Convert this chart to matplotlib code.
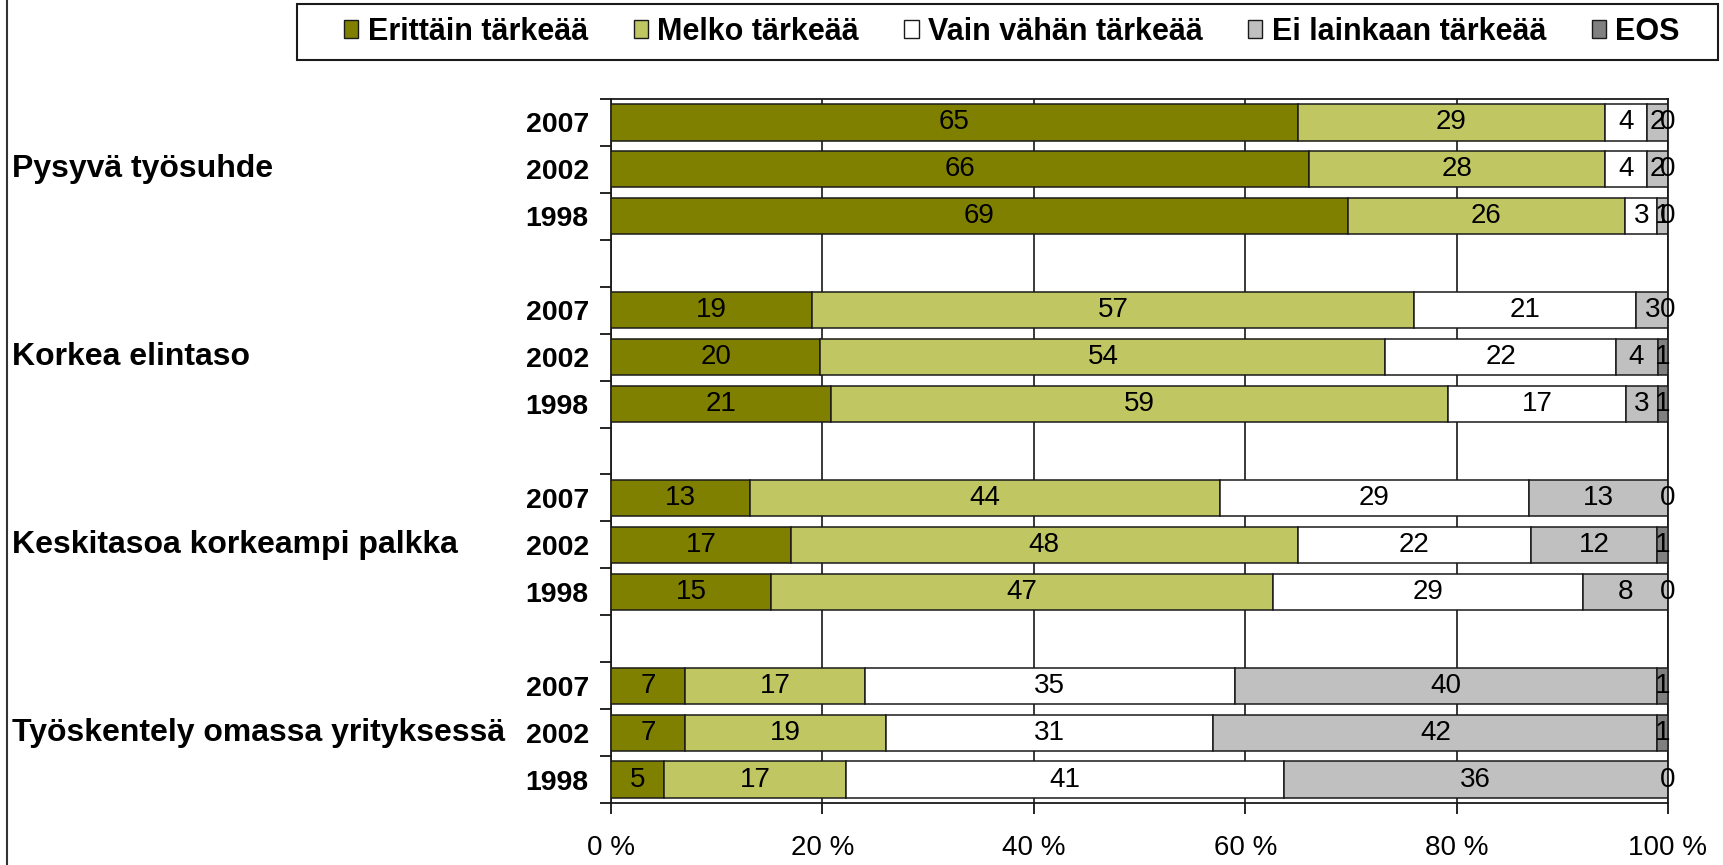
import numpy as np
import matplotlib
matplotlib.use("Agg")
import matplotlib.pyplot as plt
from matplotlib.lines import Line2D
from matplotlib.patches import Patch, Rectangle
import matplotlib.transforms as mtransforms

plt.rcParams['font.family'] = ['Liberation Sans', 'DejaVu Sans']

categories = ['Pysyvä työsuhde', 'Korkea elintaso',
              'Keskitasoa korkeampi palkka', 'Työskentely omassa yrityksessä']
years = ['2007', '2002', '1998']
series_names = ['Erittäin tärkeää', 'Melko tärkeää', 'Vain vähän tärkeää',
                'Ei lainkaan tärkeää', 'EOS']
series_colors = ['#808000', '#C0C662', '#FFFFFF', '#C0C0C0', '#808080']

# rows: for each category the years 2007, 2002, 1998
erittain = [65, 66, 69, 19, 20, 21, 13, 17, 15, 7, 7, 5]
melko = [29, 28, 26, 57, 54, 59, 44, 48, 47, 17, 19, 17]
vain = [4, 4, 3, 21, 22, 17, 29, 22, 29, 35, 31, 41]
ei = [2, 2, 1, 3, 4, 3, 13, 12, 8, 40, 42, 36]
eos = [0, 0, 0, 0, 1, 1, 0, 1, 0, 1, 1, 0]

W, H = 1723, 865
fig = plt.figure(figsize=(W / 100, H / 100), dpi=100)
ax = fig.add_axes([611 / W, 1 - 803 / H, (1668 - 611) / W, (803 - 99) / H])

data = np.array([erittain, melko, vain, ei, eos], dtype=float)
totals = data.sum(axis=0)
pct = data / totals * 100

n_cat = len(categories)
n_year = len(years)
positions = []
for g in range(n_cat):
    for j in range(n_year):
        positions.append(g * (n_year + 1) + j)
positions = np.array(positions)
n_slots = n_cat * (n_year + 1) - 1

left = np.zeros(len(positions))
for s in range(len(series_names)):
    ax.barh(positions, pct[s], left=left, height=0.77, color=series_colors[s],
            edgecolor='#1a1a1a', linewidth=1.1, label=series_names[s], zorder=3)
    for i, p in enumerate(positions):
        ax.text(left[i] + pct[s][i] / 2, p, str(int(data[s][i])),
                ha='center', va='center', fontsize=20, color='black', zorder=5)
    left = left + pct[s]

ax.set_xlim(0, 100)
ax.set_ylim(n_slots - 0.5, -0.5)

ax.set_xticks(np.arange(0, 101, 20))
ax.set_xticklabels([f'{v} %' for v in range(0, 101, 20)], fontsize=20)
ax.tick_params(axis='x', direction='out', length=8, width=1.2, pad=15, color='black')

ax.set_yticks(positions)
ax.set_yticklabels(years * n_cat, fontsize=20.5, fontweight='bold')
ax.tick_params(axis='y', which='major', length=0, pad=16)
ax.set_yticks(np.arange(-0.5, n_slots, 1.0), minor=True)
ax.tick_params(axis='y', which='minor', direction='out', length=8, width=1.2, color='black')

ax.xaxis.grid(True, color='#2a2a2a', linewidth=1.3, zorder=0)
ax.set_axisbelow(True)
for sp in ax.spines.values():
    sp.set_color('#1a1a1a')
    sp.set_linewidth(1.3)

trans = mtransforms.blended_transform_factory(fig.transFigure, ax.transData)
for g, cat in enumerate(categories):
    ax.text(12 / W, g * (n_year + 1) + 1, cat, transform=trans, ha='left', va='center',
            fontsize=23, fontweight='bold')

# legend box (drawn as a plain rectangle) and legend entries
fig.add_artist(Rectangle((297 / W, 1 - 60 / H), (1718 - 297) / W, 56 / H,
                         transform=fig.transFigure, facecolor='white',
                         edgecolor='#1a1a1a', linewidth=1.5, zorder=1))
handles = [Patch(facecolor=c, edgecolor='#1a1a1a', linewidth=1.0) for c in series_colors]
leg = fig.legend(handles, series_names, loc='center', ncol=5,
                 bbox_to_anchor=(1012 / W, 1 - 32 / H), frameon=False,
                 borderpad=0, handlelength=0.46, handleheight=0.55,
                 handletextpad=0.3, columnspacing=1.5, borderaxespad=0,
                 prop={'size': 22, 'weight': 'bold'})
leg.set_zorder(2)

fig.add_artist(Line2D([7.5 / W, 7.5 / W], [0, 1], transform=fig.transFigure,
                      color='#333333', linewidth=1.5))

fig.savefig('out.png', dpi=100, facecolor='white')
